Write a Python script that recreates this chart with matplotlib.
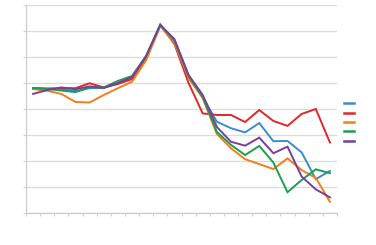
import matplotlib
matplotlib.use("Agg")
import matplotlib.pyplot as plt
import numpy as np

categories = list(range(1, 23))
series_names = ["1", "2", "3", "4", "5"]
blue = [48.0, 47.7, 47.6, 46.9, 48.0, 48.1, 49.9, 51.8, 60.0, 72.3, 66.2, 52.3,
        44.7, 35.1, 32.6, 31.0, 34.6, 27.6, 27.7, 23.3, 13.0, 16.2]
red = [48.0, 47.9, 48.0, 48.0, 49.9, 48.3, 49.6, 51.5, 59.6, 72.3, 65.0, 50.0,
       38.3, 37.7, 37.7, 35.0, 39.6, 35.4, 33.5, 38.1, 40.0, 27.1]
orange = [47.7, 47.0, 45.8, 42.7, 42.5, 45.4, 48.0, 50.5, 58.8, 71.9, 65.4, 51.9,
          44.2, 30.4, 24.9, 20.7, 18.8, 16.9, 21.0, 16.5, 13.5, 4.3]
green = [48.0, 47.7, 47.1, 46.5, 48.3, 48.3, 50.8, 52.7, 60.4, 72.5, 66.2, 52.7,
         44.6, 31.2, 26.2, 22.3, 25.8, 19.4, 8.0, 12.7, 16.8, 15.3]
purple = [45.8, 47.3, 48.3, 47.6, 48.7, 48.1, 50.0, 52.3, 60.4, 72.3, 66.9, 53.1,
          45.4, 33.1, 27.4, 25.9, 29.0, 23.0, 25.5, 14.0, 9.1, 6.0]
colors = ["#3b8ec4", "#e2262b", "#f07f1c", "#1b9e52", "#7a3f99"]

fig = plt.figure(figsize=(3.76, 2.45), dpi=100)
ax = fig.add_axes([26/376, (245-213)/245, (337-26)/376, (213-5)/245])
x = np.arange(len(categories))
for vals, c, n in zip([blue, red, orange, green, purple], colors, series_names):
    ax.plot(x, vals, color=c, lw=1.4, label=n, solid_joinstyle="miter")

ax.set_xlim(-0.5, len(categories) - 0.5)
ax.set_ylim(0, 80)
ax.set_yticks(np.arange(0, 81, 10))
ax.set_xticks(np.arange(-0.5, len(categories), 1.0))
ax.set_xticklabels([])
ax.set_yticklabels([])
ax.grid(axis="y", color="#dcdcdc", lw=1.0)
ax.set_axisbelow(True)
for s in ["top", "right"]:
    ax.spines[s].set_visible(False)
for s in ["left", "bottom"]:
    ax.spines[s].set_color("#d0d0d0")
    ax.spines[s].set_linewidth(1.0)
ax.tick_params(axis="both", colors="#d0d0d0", length=2.5, width=0.8)

leg = fig.legend(loc="upper left", bbox_to_anchor=(344/376, (245-100.5)/245),
                 frameon=False, fontsize=5, handlelength=1.45, handletextpad=0.4,
                 labelspacing=0.5, borderpad=0, borderaxespad=0)
for t in leg.get_texts():
    t.set_color("white")
for h in leg.get_lines():
    h.set_linewidth(1.8)

fig.savefig("out.png", dpi=100, facecolor="white")
